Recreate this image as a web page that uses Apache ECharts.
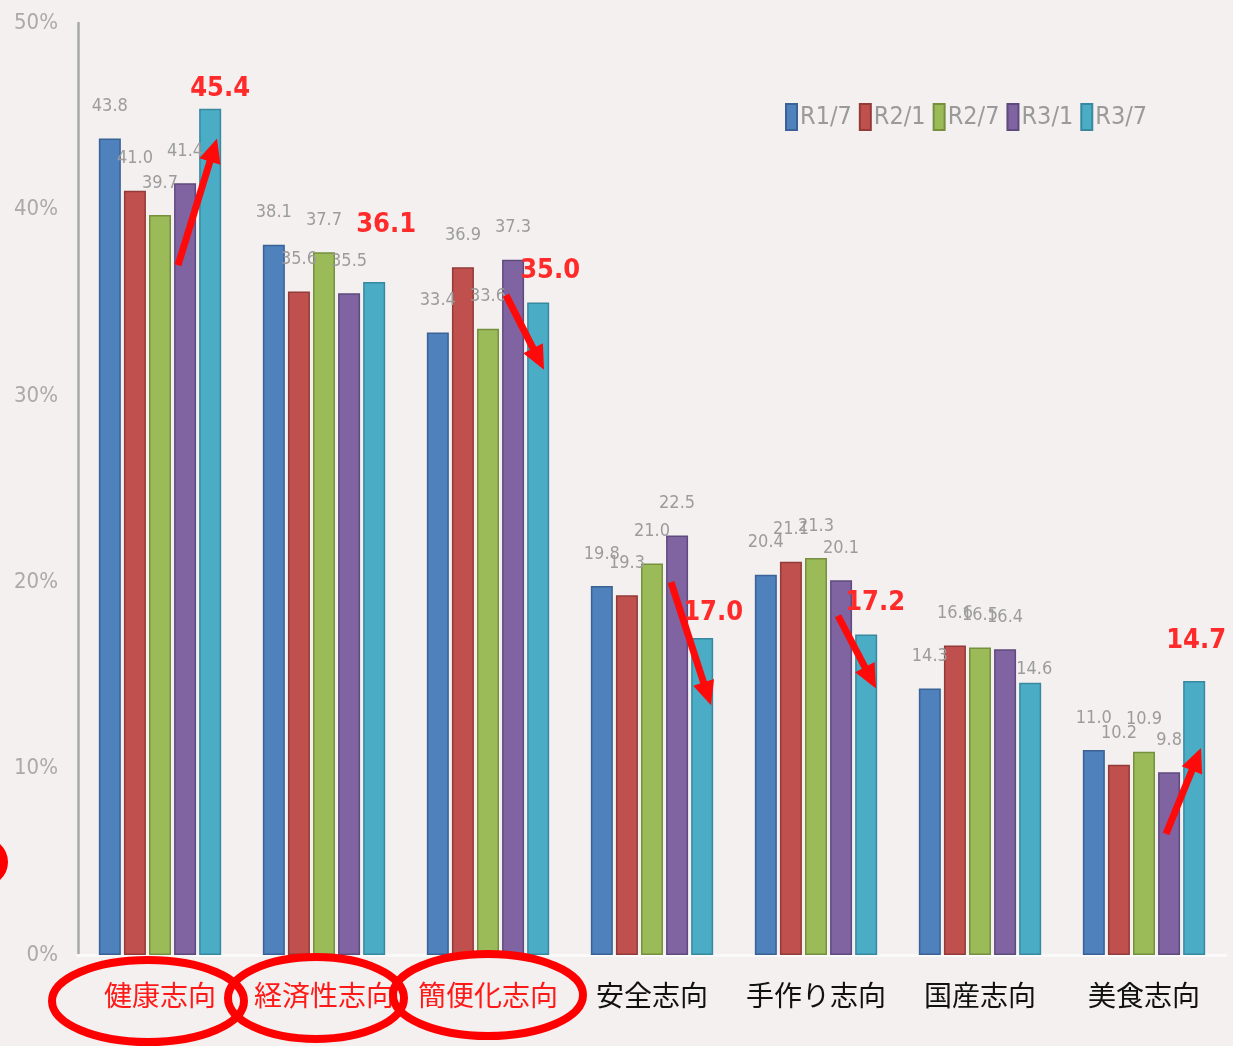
<!DOCTYPE html>
<html>
<head>
<meta charset="utf-8">
<script src="https://cdn.jsdelivr.net/npm/echarts@6/dist/echarts.min.js"></script>
<style>
  html, body { margin: 0; padding: 0; background: #f3f0ef; }
  #chart { width: 1233px; height: 1046px; }
</style>
</head>
<body>
<div id="chart"></div>
<script>
const categories = ["健康志向", "経済性志向", "簡便化志向", "安全志向", "手作り志向", "国産志向", "美食志向"];
const highlighted = [0, 1, 2];

const seriesNames = ["R1/7", "R2/1", "R2/7", "R3/1", "R3/7"];
const r1_7 = [43.8, 38.1, 33.4, 19.8, 20.4, 14.3, 11.0];
const r2_1 = [41.0, 35.6, 36.9, 19.3, 21.1, 16.6, 10.2];
const r2_7 = [39.7, 37.7, 33.6, 21.0, 21.3, 16.5, 10.9];
const r3_1 = [41.4, 35.5, 37.3, 22.5, 20.1, 16.4, 9.8];
const r3_7 = [45.4, 36.1, 35.0, 17.0, 17.2, 14.6, 14.7];
// which latest values are called out in red
const latestCalledOut = [true, true, true, true, true, false, true];

const yTicks = [0, 10, 20, 30, 40, 50];

// trend arrows: category, start/end value
const arrows = [
  { cat: 0, from: 37.0, to: 43.8 },
  { cat: 2, from: 35.4, to: 31.4 },
  { cat: 3, from: 20.0, to: 13.4 },
  { cat: 4, from: 18.2, to: 14.3 },
  { cat: 6, from: 6.5, to: 11.1 }
];
const arrowDx = [[18, 57], [0, 0], [18, 56], [19, 59], [22, 60], [0, 0], [22, 57]];
// label nudges for the latest series [dx, dy]
const latestLabelOffset = [[10, -2], [12, -40], [12, -14], [11, -8], [9, -14], [4, 0], [2, -23]];

const fills = ["#4f81bd", "#c0504d", "#9bbb59", "#8064a2", "#4bacc6"];
const borders = ["#3a6296", "#923b39", "#76903f", "#5f4a7e", "#3888a0"];
const narrow = "'DejaVu Sans Condensed', 'Liberation Sans Narrow', 'Liberation Sans', sans-serif";

const chart = echarts.init(document.getElementById("chart"), null, { renderer: "canvas" });

const allData = [r1_7, r2_1, r2_7, r3_1, r3_7];
const series = allData.map((d, i) => {
  const last = i === allData.length - 1;
  const data = last
    ? d.map((v, k) => ({
        value: v,
        label: latestCalledOut[k]
          ? { color: "#ff2b2b", fontSize: 27, fontWeight: "bold", distance: 4 }
          : { color: "#9c9c9c", fontSize: 18, distance: 5 }
      }))
    : d;
  return {
    name: seriesNames[i],
    type: "bar",
    data: data,
    barWidth: 22,
    barGap: "14%",
    itemStyle: { color: fills[i], borderColor: borders[i], borderWidth: 1.5 },
    label: {
      show: true,
      position: "top",
      distance: 23,
      formatter: (p) => Number(p.value).toFixed(1),
      fontFamily: narrow,
      fontSize: 18,
      color: "#9c9c9c"
    },
    labelLayout: last
      ? (p) => ({ dx: latestLabelOffset[p.dataIndex][0], dy: latestLabelOffset[p.dataIndex][1], hideOverlap: false })
      : { hideOverlap: false },
    z: 2
  };
});

chart.setOption({
  animation: false,
  backgroundColor: "#f3f0ef",
  grid: { left: 78, right: 7, top: 23, bottom: 91, containLabel: false },
  legend: {
    data: seriesNames,
    left: 780,
    top: 98,
    icon: "rect",
    itemWidth: 11,
    itemHeight: 26,
    itemGap: 7,
    textStyle: { color: "#9a9a9a", fontFamily: narrow, fontSize: 25, padding: [0, 0, 0, -2] }
  },
  xAxis: {
    type: "category",
    data: categories,
    axisLine: { show: true, lineStyle: { color: "#fbfafa", width: 3 } },
    axisTick: { show: false },
    axisLabel: {
      interval: 0,
      margin: 26,
      fontSize: 28,
      fontFamily: "'Noto Sans CJK JP', sans-serif",
      color: (v, idx) => highlighted.includes(idx) ? "#ff1a1a" : "#111111"
    }
  },
  yAxis: {
    type: "value",
    min: yTicks[0],
    max: yTicks[yTicks.length - 1],
    interval: 10,
    splitLine: { show: false },
    axisTick: { show: false },
    axisLine: { show: true, lineStyle: { color: "#a8a8a8", width: 2.5 } },
    axisLabel: {
      formatter: "{value}%",
      color: "#aaaaaa",
      fontFamily: narrow,
      fontSize: 22,
      margin: 20
    }
  },
  series: series
});

// annotations: arrows (from data positions) and hand-drawn ellipses
function arrowShapes() {
  const out = [];
  arrows.forEach((a) => {
    const cx = chart.convertToPixel({ xAxisIndex: 0 }, a.cat);
    const x1 = cx + arrowDx[a.cat][0];
    const x2 = cx + arrowDx[a.cat][1];
    const y1 = chart.convertToPixel({ yAxisIndex: 0 }, a.from);
    const y2 = chart.convertToPixel({ yAxisIndex: 0 }, a.to);
    const len = Math.hypot(x2 - x1, y2 - y1);
    const ux = (x2 - x1) / len, uy = (y2 - y1) / len;
    const head = 24, half = 11;
    const bx = x2 - ux * head, by = y2 - uy * head;
    out.push({
      type: "line",
      shape: { x1: x1, y1: y1, x2: bx + ux * 2, y2: by + uy * 2 },
      style: { stroke: "#ff0a0a", lineWidth: 7 },
      z: 10
    });
    out.push({
      type: "polygon",
      shape: { points: [[x2, y2], [bx - uy * half, by + ux * half], [bx + uy * half, by - ux * half]] },
      style: { fill: "#ff0a0a" },
      z: 10
    });
  });
  const ring = (cx, cy, rx, ry) => ({
    type: "ellipse",
    shape: { cx: cx, cy: cy, rx: rx, ry: ry },
    style: { fill: null, stroke: "#ff0000", lineWidth: 8 },
    z: 10
  });
  out.push(ring(148, 1001, 96, 41));
  out.push(ring(316, 998, 88, 41));
  out.push(ring(488, 995, 95, 41));
  out.push(ring(-26, 862, 30, 24));
  return out;
}

chart.setOption({ graphic: arrowShapes() });
</script>
</body>
</html>
